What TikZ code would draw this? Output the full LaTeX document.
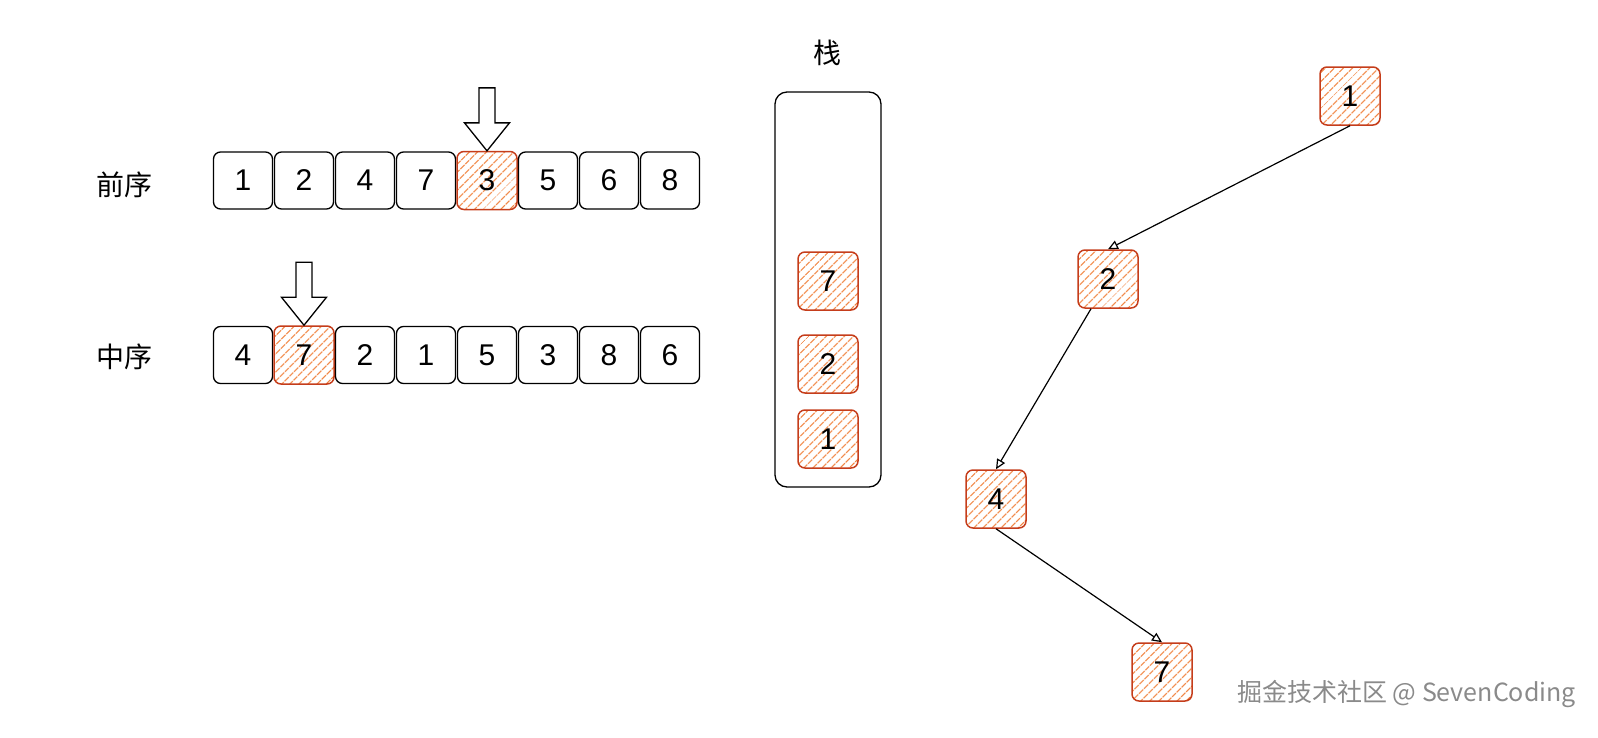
\documentclass[tikz,border=0pt]{standalone}
\usepackage{fontspec}
\setmainfont{Liberation Sans}
\newfontfamily\cjk{Noto Sans CJK SC}
\usetikzlibrary{patterns.meta,arrows.meta}
\definecolor{hatch}{HTML}{F0813C}
\definecolor{redline}{HTML}{C53D1B}
\definecolor{wmgray}{HTML}{8A8A8A}
\begin{document}
\begin{tikzpicture}[x=1pt,y=-1pt,
  cell/.style={draw=black, line width=1.3pt, rounded corners=7pt,
    minimum width=59pt, minimum height=57pt, inner sep=0pt,
    font=\fontsize{30}{30}\selectfont},
  hot/.style={cell, draw=redline, line width=1.5pt, minimum width=60pt, minimum height=58pt,
    pattern={Lines[angle=45,distance=6.5pt,line width=1.3pt]}, pattern color=hatch},
  label/.style={font=\cjk\fontsize{28}{28}\selectfont, inner sep=0pt},
  edge/.style={draw=black, line width=1.2pt, -{Triangle[open,length=10pt,width=9pt]}},
  blockarrow/.style={draw=black, line width=1.3pt, fill=white, line join=miter},
  downarrow/.pic={\path[blockarrow] (-8,-63) -- (8,-63) -- (8,-28) -- (22.5,-28)
      -- (0,0) -- (-22.5,-28) -- (-8,-28) -- cycle;}
]
\useasboundingbox (0,0) rectangle (1598,737);

% labels
\node[label] (lpre) at (124,185) {前序};
\node[label] (lin) at (124,357) {中序};

% preorder row
\foreach \v [count=\i] in {1,2,4,7,3,5,6,8} {
  \ifnum\i=5
    \node[hot] (p\i) at ({243+61*(\i-1)},180.5) {\v};
  \else
    \node[cell] (p\i) at ({243+61*(\i-1)},180.5) {\v};
  \fi
}
% inorder row
\foreach \v [count=\i] in {4,7,2,1,5,3,8,6} {
  \ifnum\i=2
    \node[hot] (q\i) at ({243+61*(\i-1)},355) {\v};
  \else
    \node[cell] (q\i) at ({243+61*(\i-1)},355) {\v};
  \fi
}
\pic at (p5.north) {downarrow};
\pic at (q2.north) {downarrow};

% stack
\node[label] (stacklabel) at (827,53) {栈};
\node[draw=black, line width=1.3pt, rounded corners=12pt, minimum width=106pt,
  minimum height=395pt, inner sep=0pt] (stack) at (828,289.5) {};
\node[hot] (s7) at (828,281) {7};
\node[hot] (s2) at (828,364) {2};
\node[hot] (s1) at (828,439) {1};

% tree
\node[hot] (t1) at (1350,96) {1};
\node[hot] (t2) at (1108,279) {2};
\node[hot] (t4) at (996,499) {4};
\node[hot] (t7) at (1162,672) {7};
\path[edge] (t1.south) -- (t2.north);
\path[edge] ([xshift=-17pt]t2.south) -- (t4.north);
\path[edge] (t4.south) -- (t7.north);

% watermark
\node[text=wmgray, font=\cjk\fontsize{25}{25}\selectfont, anchor=east, inner sep=0pt]
  (wm) at (1576,694) {掘金技术社区 @ SevenCoding};
\end{tikzpicture}
\end{document}
